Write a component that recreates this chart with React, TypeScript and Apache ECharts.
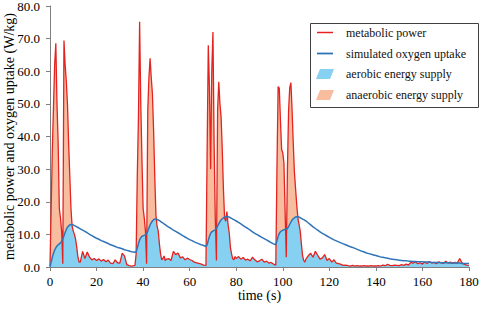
import React, { useEffect, useRef } from "react";
import * as echarts from "echarts";

// time (s)
const time = [
  0, 0.5, 1, 1.5, 2, 2.5, 3, 3.5, 4, 4.5, 5, 5.5, 6, 6.5, 7, 7.5, 8, 8.5, 9, 9.5, 10, 10.5, 11, 11.5, 12, 12.5, 13,
  14, 15, 16, 17, 18, 19, 20, 21, 22, 23, 24, 25, 26, 27, 28, 29, 30, 31, 32, 33, 34, 35, 36,
  36.5, 37, 37.5, 38, 38.5, 39, 39.5, 40, 40.5, 41, 41.5, 42, 42.5, 43, 43.5, 44, 44.5, 45, 45.5, 46, 46.5, 47, 47.5, 48, 48.5, 49, 49.5, 50,
  51, 52, 53, 54, 55, 56, 57, 58, 59, 60, 61, 62, 63, 64, 65, 66,
  67, 67.5, 68, 68.5, 69, 69.5, 70, 70.5, 71, 71.5, 72, 72.5, 73, 73.5, 74, 74.5, 75, 75.5, 76, 76.5, 77, 77.5, 78, 78.5, 79, 79.5, 80,
  81, 82, 83, 84, 85, 86, 87, 88, 89, 90, 91, 92, 93, 94, 95, 96,
  97, 97.5, 98, 98.5, 99, 99.5, 100, 100.5, 101, 101.5, 102, 102.5, 103, 103.5, 104, 104.5, 105, 105.5, 106, 106.5, 107, 107.5, 108, 108.5, 109, 109.5, 110,
  111, 112, 113, 114, 115, 116, 117, 118, 119, 120,
  121, 122, 123, 124, 125, 126, 127, 128, 129, 130,
  131, 132, 133, 134, 135, 136, 137, 138, 139, 140,
  141, 142, 143, 144, 145, 146, 147, 148, 149, 150,
  151, 152, 153, 154, 155, 156, 157, 158, 159, 160,
  161, 162, 163, 164, 165, 166, 167, 168, 169, 170,
  171, 172, 173, 174, 175, 176, 177, 178, 179, 180,
];

// metabolic power (W/kg)
const metabolicPower = [
  0.3, 18, 36, 49, 62, 68.6, 50, 38, 18, 15, 11, 1, 69.4, 62, 57, 50, 38, 28, 18, 12.5, 11, 10, 8.5, 6, 3, 1.5, 1.5,
  4.8, 2.6, 4.6, 3.0, 2.2, 2.6, 2.0, 2.5, 1.8, 2.3, 1.6, 2.1, 1.2, 1.0, 2.2, 1.3, 1.2, 4.2, 3.4, 0.7, 0.4, 0.3, 0.4,
  0.5, 4, 28, 46, 75.2, 50, 33, 18, 15, 11, 1, 48, 58, 64, 58, 53, 42, 28, 16, 12.5, 11, 7, 4, 2.2, 2.6, 3.4, 2.0, 2.4,
  2.6, 2.0, 4.8, 3.8, 4.3, 2.8, 3.1, 2.2, 2.7, 2.3, 2.0, 1.5, 1.3, 1.1, 0.9, 0.6,
  0.5, 35, 68, 55, 30, 60, 72, 38, 15, 2, 48, 56.8, 50, 46, 36, 24, 15, 14, 17, 13, 10.5, 6, 4, 2.5, 2.2, 3.2, 2.6,
  3.2, 2.4, 2.9, 2.1, 2.4, 1.9, 3.0, 2.2, 1.6, 1.9, 2.4, 1.5, 1.8, 1.2, 1.4, 0.9,
  0.6, 30, 55.3, 54.8, 45, 36, 35, 31.8, 17, 3, 30, 48, 55, 56.5, 48, 38, 29, 24, 19, 15, 13, 11, 7, 3.5, 2, 1.5, 2.5,
  3.5, 4.2, 3.0, 4.8, 3.6, 2.4, 2.8, 3.8, 2.0, 2.6,
  1.5, 2.2, 1.2, 1.0, 0.8, 0.5, 0.6, 0.4, 0.3, 0.5,
  0.3, 0.4, 0.3, 0.3, 0.4, 0.3, 0.3, 0.4, 0.3, 0.3,
  0.4, 0.3, 0.6, 0.4, 0.8, 0.5, 0.4, 0.6, 0.5, 0.4,
  0.7, 0.5, 0.9, 0.6, 1.4, 1.2, 1.6, 1.0, 1.3, 0.9,
  1.5, 1.1, 1.7, 1.2, 1.4, 1.0, 1.6, 1.3, 1.1, 1.8,
  1.2, 1.5, 1.1, 1.4, 1.2, 2.6, 1.3, 0.8, 0.6, 0.5,
];

// simulated oxygen uptake (W/kg)
const oxygenUptake = [
  0, 1.5, 3, 4.2, 5.2, 5.9, 6.4, 6.8, 7.1, 7.4, 7.8, 8.6, 9.6, 10.6, 11.5, 12.2, 12.6, 12.9, 13.0, 13.0, 12.9, 12.7, 12.5, 12.3, 12.1, 11.9, 11.7,
  11.3, 10.9, 10.5, 10.0, 9.6, 9.2, 8.8, 8.5, 8.1, 7.8, 7.5, 7.2, 6.8, 6.6, 6.3, 6.0, 5.8, 5.6, 5.3, 5.1, 4.9, 4.7, 4.6,
  4.5, 4.6, 5.8, 7.2, 8.3, 9.0, 9.4, 9.6, 9.7, 9.8, 10.2, 11.0, 12.0, 12.9, 13.6, 14.1, 14.5, 14.7, 14.7, 14.6, 14.4, 14.2, 14.0, 13.7, 13.5, 13.2, 13.0, 12.7,
  12.2, 11.8, 11.3, 10.9, 10.5, 10.1, 9.6, 9.2, 8.8, 8.4, 8.1, 7.7, 7.4, 7.1, 6.8, 6.6,
  6.3, 6.8, 8.2, 9.4, 10.3, 10.8, 11.0, 11.2, 11.4, 11.8, 12.5, 13.2, 13.9, 14.4, 14.8, 15.1, 15.3, 15.4, 15.5, 15.4, 15.3, 15.1, 14.9, 14.7, 14.5, 14.3, 14.1,
  13.7, 13.2, 12.7, 12.2, 11.8, 11.3, 10.8, 10.3, 9.9, 9.5, 9.1, 8.7, 8.3, 7.9, 7.5, 7.1,
  6.8, 8.0, 9.4, 10.3, 10.8, 11.1, 11.3, 11.4, 11.5, 11.6, 11.8, 12.4, 13.1, 13.8, 14.4, 14.8, 15.1, 15.3, 15.4, 15.4, 15.3, 15.1, 14.9, 14.7, 14.5, 14.3, 14.1,
  13.5, 12.9, 12.3, 11.8, 11.3, 10.8, 10.3, 9.9, 9.5, 9.1,
  8.7, 8.3, 8.0, 7.7, 7.4, 7.1, 6.8, 6.5, 6.2, 6.0,
  5.7, 5.4, 5.1, 4.8, 4.6, 4.3, 4.1, 3.9, 3.7, 3.5,
  3.3, 3.1, 3.0, 2.8, 2.7, 2.5, 2.4, 2.3, 2.2, 2.1,
  2.0, 1.9, 1.9, 1.8, 1.8, 1.7, 1.7, 1.6, 1.6, 1.6,
  1.5, 1.5, 1.5, 1.4, 1.4, 1.4, 1.4, 1.3, 1.3, 1.3,
  1.3, 1.2, 1.2, 1.2, 1.2, 1.2, 1.1, 1.1, 1.1, 1.1,
];

const legendLabels = [
  "metabolic power",
  "simulated oxygen uptake",
  "aerobic energy supply",
  "anaerobic energy supply",
];
const yAxisTitle = "metabolic power and oxygen uptake (W/kg)";
const xAxisTitle = "time (s)";

const RED = "#e42320";
const BLUE = "#2f74b7";
const AERO = "#86d0f1";
const ANAERO = "#f8bd9e";
const FONT = "Liberation Serif";

export default function App() {
  const ref = useRef<HTMLDivElement>(null);
  useEffect(() => {
    if (!ref.current) return;
    const chart = echarts.init(ref.current, null, { renderer: "svg" });
    const red = time.map((t, i) => [t, metabolicPower[i]]);
    const blue = time.map((t, i) => [t, oxygenUptake[i]]);
    const aerobic = time.map((t, i) => [t, Math.min(metabolicPower[i], oxygenUptake[i])]);

    const lx = 310.5, ly = 23.5;
    const rows = [32.5, 53.5, 74, 95];
    const Z = 100;
    chart.setOption({
      animation: false,
      backgroundColor: "#ffffff",
      textStyle: { fontFamily: FONT },
      grid: { left: 50, right: 12, top: 6, bottom: 42, outerBoundsMode: "none", containLabel: false },
      xAxis: {
        type: "value",
        min: 0,
        max: 180,
        interval: 20,
        name: xAxisTitle,
        nameLocation: "middle",
        nameGap: 21,
        nameMoveOverlap: false,
        nameTextStyle: { fontFamily: FONT, fontSize: 14, color: "#000" },
        axisLine: { show: true, lineStyle: { color: "#7f7f7f", width: 1 } },
        axisTick: { show: true, length: 4, lineStyle: { color: "#7f7f7f" } },
        axisLabel: { fontFamily: FONT, fontSize: 13, color: "#000", margin: 8 },
        splitLine: { show: false },
      },
      yAxis: {
        type: "value",
        min: 0,
        max: 80,
        interval: 10,
        name: yAxisTitle,
        nameLocation: "middle",
        nameGap: 34,
        nameMoveOverlap: false,
        nameTextStyle: { fontFamily: FONT, fontSize: 14, color: "#000" },
        axisLine: { show: true, lineStyle: { color: "#7f7f7f", width: 1 } },
        axisTick: { show: true, length: 4, lineStyle: { color: "#7f7f7f" } },
        axisLabel: {
          fontFamily: FONT,
          fontSize: 13,
          color: "#000",
          margin: 10,
          formatter: (v: number) => v.toFixed(1),
        },
        splitLine: { show: false },
      },
      series: [
        {
          name: legendLabels[3],
          type: "line",
          data: red,
          symbol: "none",
          lineStyle: { width: 0, opacity: 0 },
          areaStyle: { color: ANAERO, opacity: 1 },
          z: 1,
        },
        {
          name: legendLabels[2],
          type: "line",
          data: aerobic,
          symbol: "none",
          lineStyle: { width: 0, opacity: 0 },
          areaStyle: { color: AERO, opacity: 1 },
          z: 2,
        },
        {
          name: legendLabels[0],
          type: "line",
          data: red,
          symbol: "none",
          lineStyle: { color: RED, width: 1.3 },
          z: 3,
        },
        {
          name: legendLabels[1],
          type: "line",
          data: blue,
          symbol: "none",
          lineStyle: { color: BLUE, width: 1.5 },
          z: 4,
        },
      ],
      graphic: [
        {
          type: "rect",
          z: Z,
          shape: { x: lx, y: ly, width: 168, height: 84 },
          style: { fill: "#ffffff", stroke: "#404040", lineWidth: 1 },
        },
        {
          type: "line",
          z: Z + 1,
          shape: { x1: 317, y1: rows[0], x2: 333, y2: rows[0] },
          style: { stroke: RED, lineWidth: 1.5 },
        },
        {
          type: "line",
          z: Z + 1,
          shape: { x1: 317, y1: rows[1], x2: 333, y2: rows[1] },
          style: { stroke: BLUE, lineWidth: 1.8 },
        },
        {
          type: "polygon",
          z: Z + 1,
          shape: { points: [[320, rows[2] - 5], [334, rows[2] - 5], [330, rows[2] + 5], [316, rows[2] + 5]] },
          style: { fill: AERO },
        },
        {
          type: "polygon",
          z: Z + 1,
          shape: { points: [[320, rows[3] - 5], [334, rows[3] - 5], [330, rows[3] + 5], [316, rows[3] + 5]] },
          style: { fill: ANAERO },
        },
        ...legendLabels.map((s, i) => ({
          type: "text",
          z: Z + 1,
          x: 346,
          y: rows[i],
          style: {
            text: s,
            fontFamily: FONT,
            fontSize: 12,
            fill: "#111",
            verticalAlign: "middle",
            align: "left",
          },
        })),
      ],
    });
    return () => chart.dispose();
  }, []);
  return (
    <div
      ref={ref}
      style={{ position: "fixed", left: 0, top: 0, width: 481, height: 309, background: "#fff" }}
    />
  );
}
